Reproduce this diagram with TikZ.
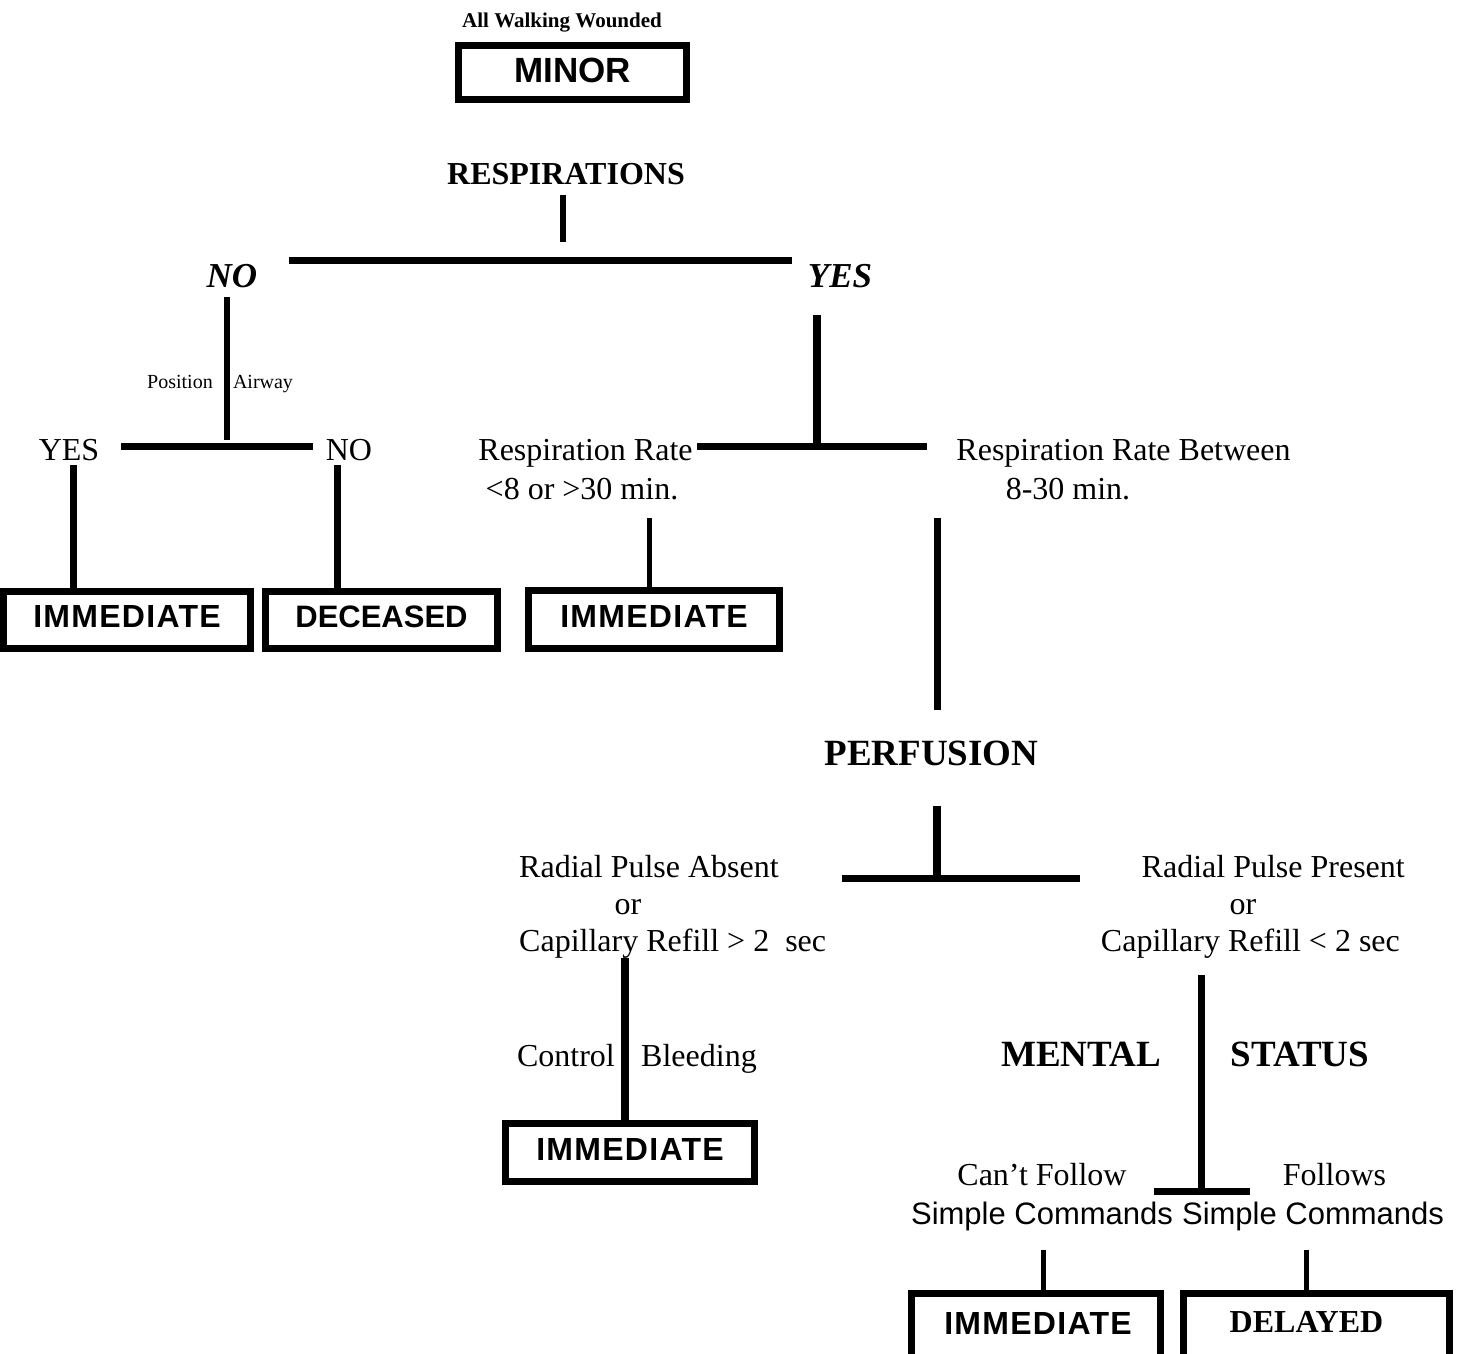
\documentclass[tikz,border=0pt]{standalone}
\usepackage{fontspec}
\setmainfont{Liberation Serif}
\setsansfont{Liberation Sans}
\tikzset{
  x=1pt, y=-1pt,
  ln/.style={line width=7pt},
  lnthin/.style={line width=5pt},
  box/.style={draw, line width=7pt, inner sep=0pt, align=center, text height=23pt, text depth=8pt},
  sbox/.style={box, font=\sffamily\bfseries\fontsize{32}{32}\selectfont\addfontfeature{LetterSpace=4}},
  txt/.style={inner sep=0pt, anchor=base, font=\fontsize{32}{32}\selectfont},
  btxt/.style={txt, font=\bfseries\fontsize{32}{32}\selectfont},
  bigb/.style={txt, font=\bfseries\fontsize{37}{37}\selectfont},
  bit/.style={txt, font=\bfseries\itshape\fontsize{35}{35}\selectfont},
  small/.style={txt, font=\fontsize{20}{20}\selectfont},
  sans/.style={txt, font=\sffamily\fontsize{31}{31}\selectfont},
}
\begin{document}
\begin{tikzpicture}
\useasboundingbox (0,0) rectangle (1459,1353);
\clip (0,0) rectangle (1459,1353);
\fill[white] (0,0) rectangle (1459,1353);

% top
\node[txt, font=\bfseries\fontsize{21}{21}\selectfont] (walk) at (562,27) {All Walking Wounded};
\node[box, minimum width=228pt, minimum height=54pt, text height=25pt, text depth=6pt, font=\sffamily\bfseries\fontsize{35}{35}\selectfont] (minor) at (572.5,72.5) {MINOR};

\node[btxt] (resp) at (566,184) {RESPIRATIONS};
\node[bit] (no1) at (232,287) {NO};
\node[bit] (yes1) at (840,287) {YES};

\node[small] (pos) at (180,388) {Position};
\node[small] (air) at (263,388) {Airway};

\node[txt] (yes2) at (69,460) {YES};
\node[txt] (no2) at (349,460) {NO};

\node[txt] (rr1) at (585.5,460) {Respiration Rate};
\node[txt] (rr1b) at (582,499) {<8 or >30 min.};
\node[txt] (rr2) at (1123.5,460) {Respiration Rate Between};
\node[txt] (rr2b) at (1068,499) {8-30 min.};

\node[sbox, minimum width=247pt, minimum height=57pt] (im1) at (127,620) {IMMEDIATE};
\node[box, minimum width=232pt, minimum height=57pt, font=\sffamily\bfseries\fontsize{31}{31}\selectfont] (dec) at (381.5,620) {DECEASED};
\node[sbox, minimum width=251pt, minimum height=58pt] (im2) at (654,619.5) {IMMEDIATE};

\node[bigb] (perf) at (931.5,765) {PERFUSION};

\node[txt, anchor=base west] (ra1) at (519,877) {Radial Pulse Absent};
\node[txt] (ra2) at (628,914) {or};
\node[txt, anchor=base west] (ra3) at (519,951) {Capillary Refill > 2~~sec};

\node[txt, anchor=base east] (rp1) at (1405,877) {Radial Pulse Present};
\node[txt] (rp2) at (1243,914) {or};
\node[txt, anchor=base east] (rp3) at (1400,951) {Capillary Refill < 2 sec};

\node[txt, anchor=base east] (ctrl) at (615,1066) {Control};
\node[txt, anchor=base west] (bleed) at (641,1066) {Bleeding};

\node[bigb] (mental) at (1081,1066) {MENTAL};
\node[bigb] (status) at (1300,1066) {STATUS};

\node[sbox, minimum width=249pt, minimum height=58pt] (im3) at (630,1152.5) {IMMEDIATE};

\node[txt] (cant) at (1042,1185) {Can’t Follow};
\node[sans] (simp1) at (1042,1224) {Simple Commands};
\node[txt] (fol) at (1334.5,1185) {Follows};
\node[sans] (simp2) at (1313,1224) {Simple Commands};

\node[draw, line width=7pt, minimum width=249pt, minimum height=67pt] (im4) at (1036,1327) {};
\node[txt, font=\sffamily\bfseries\fontsize{32}{32}\selectfont\addfontfeature{LetterSpace=4}] (im4t) at (1038,1334) {IMMEDIATE};
\node[draw, line width=7pt, minimum width=266pt, minimum height=67pt] (del) at (1316.5,1327) {};
\node[btxt] (delt) at (1306.5,1332) {DELAYED};

% connectors
\coordinate (a1) at (563,195); \coordinate (a2) at (563,242);
\draw[line width=6pt] (a1) -- (a2);
\coordinate (b1) at (289,260); \coordinate (b2) at (792,260);
\draw[ln] (b1) -- (b2);
\coordinate (c1) at (227,297); \coordinate (c2) at (227,440);
\draw[line width=6pt] (c1) -- (c2);
\coordinate (d1) at (121,446); \coordinate (d2) at (313,446);
\draw[ln] (d1) -- (d2);
\coordinate (e1) at (73,465);
\draw[ln] (e1) -- (e1 |- im1.north);
\coordinate (f1) at (337,465);
\draw[ln] (f1) -- (f1 |- dec.north);
\coordinate (g1) at (817,315); \coordinate (g2) at (817,443);
\draw[line width=8pt] (g1) -- (g2);
\coordinate (h1) at (697,446); \coordinate (h2) at (927,446);
\draw[ln] (h1) -- (h2);
\coordinate (i1) at (649,518);
\draw[lnthin] (i1) -- (i1 |- im2.north);
\coordinate (j1) at (937,518); \coordinate (j2) at (937,710);
\draw[ln] (j1) -- (j2);
\coordinate (k1) at (937,806); \coordinate (k2) at (937,876);
\draw[line width=8pt] (k1) -- (k2);
\coordinate (l1) at (842,878); \coordinate (l2) at (1080,878);
\draw[ln] (l1) -- (l2);
\coordinate (m1) at (625,958);
\draw[line width=8pt] (m1) -- (m1 |- im3.north);
\coordinate (n1) at (1201,975); \coordinate (n2) at (1201,1188);
\draw[ln] (n1) -- (n2);
\coordinate (o1) at (1154,1191); \coordinate (o2) at (1250,1191);
\draw[ln] (o1) -- (o2);
\coordinate (p1) at (1043,1250);
\draw[lnthin] (p1) -- (p1 |- im4.north);
\coordinate (q1) at (1306,1250);
\draw[lnthin] (q1) -- (q1 |- del.north);
\end{tikzpicture}
\end{document}
